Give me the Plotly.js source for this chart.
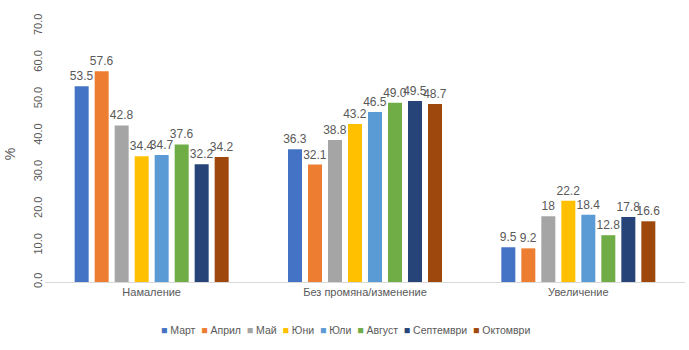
<!DOCTYPE html>
<html><head><meta charset="utf-8">
<script src="https://cdn.plot.ly/plotly-3.0.1.min.js"></script>
<style>body{margin:0;background:#fff}#c{width:689px;height:350px}</style>
</head><body><div id="c"></div>
<script>
const categories = ["Намаление", "Без промяна/изменение", "Увеличение"];
const months = ["Март", "Април", "Май", "Юни", "Юли", "Август", "Септември", "Октомври"];
const colors = ["#4472C4", "#ED7D31", "#A5A5A5", "#FFC000", "#5B9BD5", "#70AD47", "#264478", "#9E480E"];
const mart = [53.5, 36.3, 9.5];
const april = [57.6, 32.1, 9.2];
const mai = [42.8, 38.8, 18];
const yuni = [34.4, 43.2, 22.2];
const yuli = [34.7, 46.5, 18.4];
const avgust = [37.6, 49.0, 12.8];
const septemvri = [32.2, 49.5, 17.8];
const oktomvri = [34.2, 48.7, 16.6];
const labels = [
  ["53.5", "36.3", "9.5"],
  ["57.6", "32.1", "9.2"],
  ["42.8", "38.8", "18"],
  ["34.4", "43.2", "22.2"],
  ["34.7", "46.5", "18.4"],
  ["37.6", "49.0", "12.8"],
  ["32.2", "49.5", "17.8"],
  ["34.2", "48.7", "16.6"]
];
const series = [mart, april, mai, yuni, yuli, avgust, septemvri, oktomvri];
const FONT = "Liberation Sans, Arial, sans-serif";
const traces = series.map((s, i) => ({
  type: "bar", name: months[i], x: categories, y: s,
  marker: {color: colors[i]},
  text: labels[i], textposition: "outside", cliponaxis: false, constraintext: "none",
  textfont: {color: "#595959", size: 12, family: FONT},
  outsidetextfont: {color: "#595959", size: 12, family: FONT},
  hoverinfo: "none", showlegend: false
}));
const legendText = months.map((m, i) =>
  "<span style='color:" + colors[i] + "'>■</span> " + m).join("  ");
const layout = {
  width: 689, height: 350,
  margin: {l: 45, r: 4, t: 26, b: 68},
  barmode: "group", bargap: 0.25, bargroupgap: 0.3,
  font: {family: FONT, color: "#595959", size: 11},
  paper_bgcolor: "#fff", plot_bgcolor: "#fff",
  showlegend: false,
  annotations: [{xref: "paper", yref: "paper", x: 0.47, y: -0.155, xanchor: "center", yanchor: "top",
    text: legendText, showarrow: false, font: {size: 10.5, color: "#595959", family: FONT}}],
  xaxis: {showline: true, linecolor: "#d9d9d9", linewidth: 1, ticks: "", tickfont: {size: 11, color: "#595959"}},
  yaxis: {range: [0, 70], dtick: 10, tickformat: ".1f", showgrid: false, zeroline: false,
    showline: false, tickangle: -90, tickfont: {size: 11, color: "#595959"},
    title: {text: "%", font: {size: 14, color: "#595959"}, standoff: 12}}
};
Plotly.newPlot("c", traces, layout, {displayModeBar: false, staticPlot: true});
</script></body></html>
